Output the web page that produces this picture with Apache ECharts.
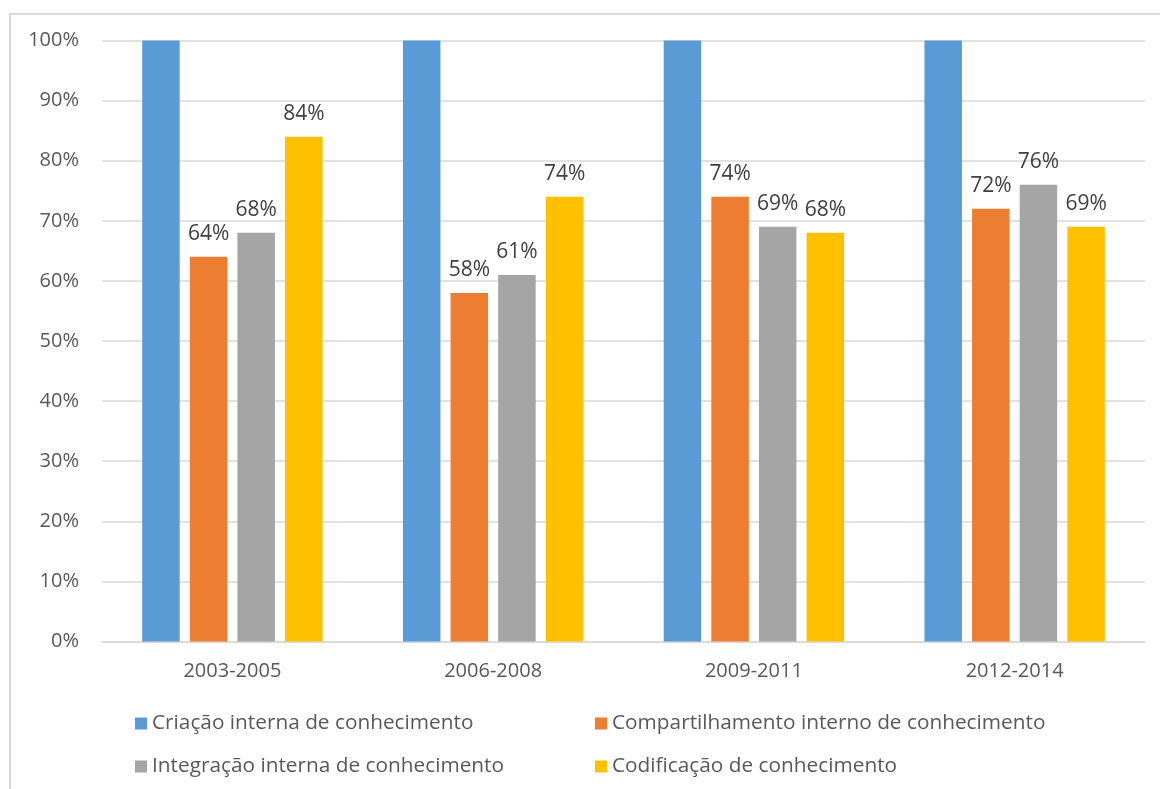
<!DOCTYPE html>
<html>
<head>
<meta charset="utf-8">
<script src="https://cdn.jsdelivr.net/npm/echarts@6/dist/echarts.min.js"></script>
<style>
  html, body { margin: 0; padding: 0; background: #fff; }
  #chart { width: 1160px; height: 789px; }
</style>
</head>
<body>
<div id="chart"></div>
<script>
// Periods on the horizontal axis
const periods = ['2003-2005', '2006-2008', '2009-2011', '2012-2014'];

// Series names (legend order: two columns)
const seriesNames = [
  'Criação interna de conhecimento',
  'Compartilhamento interno de conhecimento',
  'Integração interna de conhecimento',
  'Codificação de conhecimento'
];

// Percent values per period
const criacao = [100, 100, 100, 100];
const compartilhamento = [64, 58, 74, 72];
const integracao = [68, 61, 69, 76];
const codificacao = [84, 74, 68, 69];

// Y-axis ticks
const yTicks = [0, 10, 20, 30, 40, 50, 60, 70, 80, 90, 100];

const colors = ['#5B9BD5', '#ED7D31', '#A5A5A5', '#FFC000'];
const FONT = '"Open Sans", "Noto Sans", sans-serif';

const chart = echarts.init(document.getElementById('chart'), null, { renderer: 'canvas' });

function barSeries(name, data, color, showLabel) {
  return {
    name: name,
    type: 'bar',
    data: data,
    barWidth: 37.5,
    barGap: '27%',
    itemStyle: { color: color },
    label: {
      show: showLabel,
      position: 'top',
      distance: 12,
      formatter: p => p.value + '%',
      color: '#404040',
      fontFamily: FONT,
      fontSize: 21
    },
    emphasis: { disabled: true }
  };
}

const legendText = { color: '#595959', fontSize: 20.8, fontFamily: FONT, lineHeight: 21 };

chart.setOption({
  animation: false,
  color: colors,
  textStyle: { fontFamily: FONT },
  graphic: [{
    type: 'rect',
    shape: { x: 10, y: 14, width: 1200, height: 820 },
    style: { fill: 'none', stroke: '#D9D9D9', lineWidth: 2 },
    silent: true,
    z: -1
  }],
  grid: { left: 102, right: 15, top: 40.5, bottom: 147.5, containLabel: false },
  xAxis: {
    type: 'category',
    data: periods,
    axisTick: { show: false },
    axisLine: { lineStyle: { color: '#D9D9D9', width: 1.5 } },
    axisLabel: { color: '#595959', fontSize: 20, fontFamily: FONT, margin: 20 }
  },
  yAxis: {
    type: 'value',
    min: yTicks[0],
    max: yTicks[yTicks.length - 1],
    interval: yTicks[1] - yTicks[0],
    axisLine: { show: false },
    axisTick: { show: false },
    splitLine: { lineStyle: { color: '#D9D9D9', width: 1.5 } },
    axisLabel: {
      color: '#595959', fontSize: 20, fontFamily: FONT, margin: 23,
      formatter: '{value}%'
    }
  },
  legend: [
    {
      data: [seriesNames[0], seriesNames[2]],
      orient: 'vertical',
      left: 135,
      top: 713,
      padding: 0,
      itemWidth: 12,
      itemHeight: 12,
      itemGap: 22,
      icon: 'rect',
      selectedMode: false,
      textStyle: legendText
    },
    {
      data: [seriesNames[1], seriesNames[3]],
      orient: 'vertical',
      left: 595,
      top: 713,
      padding: 0,
      itemWidth: 12,
      itemHeight: 12,
      itemGap: 22,
      icon: 'rect',
      selectedMode: false,
      textStyle: legendText
    }
  ],
  series: [
    barSeries(seriesNames[0], criacao, colors[0], false),
    barSeries(seriesNames[1], compartilhamento, colors[1], true),
    barSeries(seriesNames[2], integracao, colors[2], true),
    barSeries(seriesNames[3], codificacao, colors[3], true)
  ]
});
</script>
</body>
</html>
